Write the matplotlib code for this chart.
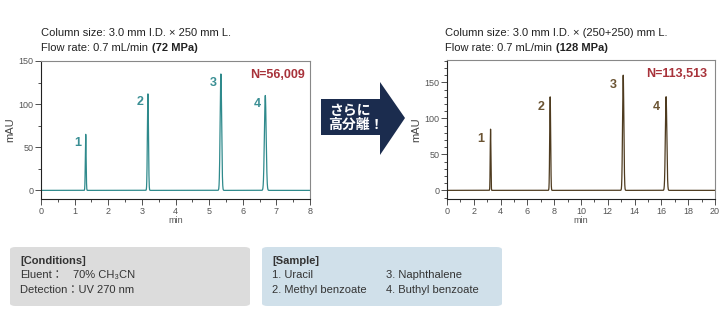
import numpy as np
import matplotlib
matplotlib.use('Agg')
import matplotlib.pyplot as plt
from matplotlib.patches import Polygon, FancyBboxPatch
from matplotlib.ticker import MultipleLocator

plt.rcParams['font.family'] = ['Liberation Sans', 'Noto Sans CJK JP', 'DejaVu Sans']

# peak table: retention time (min), height (mAU), width sigma (min)
peak_ids = ['1', '2', '3', '4']
rt_single = [1.33, 3.18, 5.35, 6.67]
h_single = [65, 112, 135, 110]
w_single = [0.012, 0.016, 0.022, 0.026]

rt_double = [3.25, 7.70, 13.15, 16.35]
h_double = [85, 130, 160, 130]
w_double = [0.025, 0.035, 0.048, 0.055]

teal = '#2f8a8c'
label_teal = '#3a8f94'
brown = '#4e3b1f'
label_brown = '#6b5433'
red = '#a8323a'


def trace(ax, t_end, rts, hs, ws, color):
    t = np.linspace(0, t_end, 4000)
    y = np.zeros_like(t)
    for r, h, w in zip(rts, hs, ws):
        y += h * np.exp(-0.5 * ((t - r) / w) ** 2)
    ax.plot(t, y, color=color, lw=0.9)


def style(ax, xmax, xmaj, xmin, ymin, ymax, ymaj, ymn):
    ax.set_xlim(0, xmax)
    ax.set_ylim(ymin, ymax)
    ax.xaxis.set_major_locator(MultipleLocator(xmaj))
    ax.xaxis.set_minor_locator(MultipleLocator(xmin))
    ax.yaxis.set_major_locator(MultipleLocator(ymaj))
    ax.yaxis.set_minor_locator(MultipleLocator(ymn))
    ax.tick_params(which='major', direction='out', length=4, width=0.6,
                   labelsize=6.5, colors='#333333', labelcolor='#555555', pad=1.5)
    ax.tick_params(which='minor', direction='out', length=2, width=0.6, colors='#333333')
    for s in ['left', 'bottom']:
        ax.spines[s].set_color('#222222')
        ax.spines[s].set_linewidth(0.8)
    for s in ['top', 'right']:
        ax.spines[s].set_color('#888888')
        ax.spines[s].set_linewidth(0.8)
    ax.set_xlabel('min', fontsize=6.5, color='#555555', labelpad=0.5)
    ax.set_ylabel('mAU', fontsize=8, color='#444444', labelpad=2)


fig = plt.figure(figsize=(7.2, 3.24), dpi=100)

W, H = 720, 324
ax1 = fig.add_axes([41 / W, (H - 199) / H, 269 / W, 138 / H])
ax2 = fig.add_axes([447 / W, (H - 199) / H, 268 / W, 139 / H])

trace(ax1, 8, rt_single, h_single, w_single, teal)
style(ax1, 8, 1, 0.5, -10, 150, 50, 25)
trace(ax2, 20, rt_double, h_double, w_double, brown)
style(ax2, 20, 2, 1, -12, 181, 50, 10)

for i, r, h in zip(peak_ids, rt_single, h_single):
    ax1.text(r - 0.12, h - 3, i, color=label_teal, fontsize=9, fontweight='bold',
             ha='right', va='top')
for i, r, h in zip(peak_ids, rt_double, h_double):
    ax2.text(r - 0.45, h - 6, i, color=label_brown, fontsize=9, fontweight='bold',
             ha='right', va='top')

ax1.text(0.98, 0.94, 'N=56,009', transform=ax1.transAxes, color=red,
         fontsize=9, fontweight='bold', ha='right', va='top')
ax2.text(0.97, 0.94, 'N=113,513', transform=ax2.transAxes, color=red,
         fontsize=9, fontweight='bold', ha='right', va='top')

# headers
fig.text(41 / W, 1 - 33 / H, 'Column size: 3.0 mm I.D. × 250 mm L.',
         fontsize=8, color='#222222', va='center')
fig.text(41 / W, 1 - 48 / H, 'Flow rate: 0.7 mL/min ', fontsize=8,
         color='#222222', va='center')
fig.text(152 / W, 1 - 48 / H, '(72 MPa)', fontsize=8, fontweight='bold',
         color='#222222', va='center')
fig.text(445 / W, 1 - 33 / H, 'Column size: 3.0 mm I.D. × (250+250) mm L.',
         fontsize=8, color='#222222', va='center')
fig.text(445 / W, 1 - 48 / H, 'Flow rate: 0.7 mL/min ', fontsize=8,
         color='#222222', va='center')
fig.text(556 / W, 1 - 48 / H, '(128 MPa)', fontsize=8, fontweight='bold',
         color='#222222', va='center')

# arrow
arrow_px = [(321, 99), (380, 99), (380, 82), (405, 118), (380, 155), (380, 135), (321, 135)]
fig.patches.append(Polygon([(x / W, 1 - y / H) for x, y in arrow_px], closed=True,
                           transform=fig.transFigure, facecolor='#1b2c4e',
                           edgecolor='none'))
fig.text(329 / W, 1 - 111 / H, 'さらに', fontsize=10, fontweight='bold',
         color='white', ha='left', va='center',
         family=['Noto Sans CJK JP', 'DejaVu Sans'])
fig.text(328 / W, 1 - 125 / H, '高分離！', fontsize=10, fontweight='bold',
         color='white', ha='left', va='center',
         family=['Noto Sans CJK JP', 'DejaVu Sans'])

# info boxes
for x0, x1, col in [(10, 250, '#dcdcdc'), (262, 502, '#d0e0ea')]:
    fig.patches.append(FancyBboxPatch((x0 / W, 1 - 306 / H), (x1 - x0) / W, 59 / H,
                                      boxstyle='round,pad=0,rounding_size=0.008',
                                      transform=fig.transFigure, facecolor=col,
                                      edgecolor='none'))

fs = 8
tc = '#333333'
fig.text(20 / W, 1 - 261 / H, '[Conditions]', fontsize=fs, fontweight='bold', color=tc, va='center')
fig.text(20 / W, 1 - 275 / H, 'Eluent：', fontsize=fs, color=tc, va='center')
fig.text(73 / W, 1 - 275 / H, '70% CH₃CN', fontsize=fs, color=tc, va='center',
         family=['Liberation Sans', 'DejaVu Sans'])
fig.text(20 / W, 1 - 290 / H, 'Detection：UV 270 nm', fontsize=fs, color=tc, va='center')

fig.text(272 / W, 1 - 261 / H, '[Sample]', fontsize=fs, fontweight='bold', color=tc, va='center')
fig.text(272 / W, 1 - 275 / H, '1. Uracil', fontsize=fs, color=tc, va='center')
fig.text(272 / W, 1 - 290 / H, '2. Methyl benzoate', fontsize=fs, color=tc, va='center')
fig.text(386 / W, 1 - 275 / H, '3. Naphthalene', fontsize=fs, color=tc, va='center')
fig.text(386 / W, 1 - 290 / H, '4. Buthyl benzoate', fontsize=fs, color=tc, va='center')

fig.savefig('out.png', dpi=100)
